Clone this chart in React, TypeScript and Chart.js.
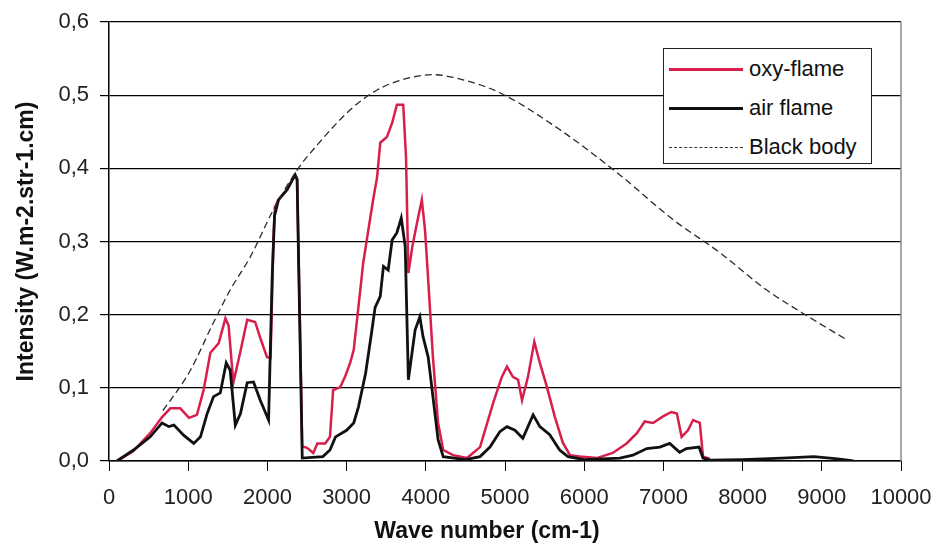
import React, { useEffect, useRef } from "react";
import { Chart, registerables } from "chart.js";

Chart.register(...registerables);

// Oxy-flame spectrum
const oxyX = [100, 300, 520, 670, 775, 900, 1010, 1110, 1195, 1280, 1385, 1470, 1510, 1570, 1660, 1745, 1845, 1920, 1995, 2040, 2075, 2095, 2140, 2250, 2350, 2375, 2440, 2500, 2580, 2630, 2730, 2790, 2830, 2920, 2980, 3045, 3090, 3150, 3210, 3275, 3335, 3385, 3425, 3510, 3575, 3635, 3715, 3750, 3780, 3830, 3890, 3950, 3990, 4030, 4090, 4155, 4220, 4345, 4520, 4685, 4850, 4960, 5025, 5100, 5165, 5215, 5290, 5370, 5440, 5530, 5630, 5730, 5820, 5945, 6160, 6360, 6535, 6665, 6765, 6870, 6995, 7100, 7170, 7230, 7310, 7375, 7460, 7500, 7585];
const oxyY = [0.0, 0.013, 0.038, 0.06, 0.072, 0.072, 0.059, 0.063, 0.097, 0.148, 0.161, 0.195, 0.185, 0.107, 0.15, 0.193, 0.19, 0.165, 0.142, 0.141, 0.3, 0.347, 0.357, 0.371, 0.391, 0.385, 0.02, 0.018, 0.011, 0.024, 0.024, 0.033, 0.097, 0.101, 0.115, 0.134, 0.152, 0.211, 0.271, 0.316, 0.357, 0.388, 0.435, 0.443, 0.462, 0.487, 0.487, 0.416, 0.257, 0.293, 0.326, 0.357, 0.316, 0.248, 0.142, 0.052, 0.015, 0.008, 0.004, 0.019, 0.079, 0.115, 0.129, 0.115, 0.111, 0.083, 0.115, 0.163, 0.134, 0.101, 0.06, 0.025, 0.008, 0.006, 0.004, 0.011, 0.024, 0.038, 0.054, 0.052, 0.061, 0.067, 0.065, 0.033, 0.042, 0.056, 0.052, 0.006, 0.003];

// Air flame spectrum
const airX = [100, 310, 520, 670, 755, 820, 945, 1070, 1155, 1240, 1320, 1405, 1480, 1530, 1595, 1660, 1745, 1825, 1910, 2015, 2060, 2090, 2140, 2250, 2350, 2375, 2440, 2700, 2790, 2860, 3000, 3090, 3150, 3240, 3320, 3360, 3425, 3465, 3525, 3575, 3635, 3690, 3740, 3780, 3865, 3925, 3965, 4030, 4090, 4155, 4220, 4500, 4685, 4810, 4935, 5025, 5125, 5225, 5355, 5440, 5565, 5690, 5795, 6000, 6450, 6615, 6790, 6955, 7080, 7205, 7290, 7450, 7500, 7600, 8000, 8500, 8900, 9200, 9400];
const airY = [0.0, 0.015, 0.033, 0.052, 0.047, 0.049, 0.035, 0.024, 0.033, 0.065, 0.088, 0.093, 0.134, 0.124, 0.049, 0.065, 0.107, 0.108, 0.083, 0.056, 0.25, 0.335, 0.357, 0.371, 0.391, 0.385, 0.004, 0.006, 0.015, 0.033, 0.042, 0.052, 0.074, 0.12, 0.179, 0.21, 0.225, 0.266, 0.261, 0.302, 0.312, 0.332, 0.293, 0.111, 0.179, 0.197, 0.17, 0.142, 0.088, 0.029, 0.006, 0.002, 0.006, 0.019, 0.04, 0.047, 0.042, 0.031, 0.063, 0.047, 0.036, 0.015, 0.006, 0.002, 0.004, 0.008, 0.017, 0.019, 0.024, 0.012, 0.017, 0.019, 0.004, 0.001, 0.002, 0.004, 0.006, 0.003, 0.0];

// Black body curve
const bbX = [680, 776, 1028, 1318, 1532, 1784, 2074, 2377, 2630, 3045, 3385, 3700, 4090, 4470, 4940, 5690, 6450, 7120, 7710, 8300, 8760, 9310];
const bbY = [0.069, 0.083, 0.124, 0.189, 0.234, 0.279, 0.343, 0.398, 0.432, 0.48, 0.507, 0.521, 0.528, 0.521, 0.503, 0.453, 0.391, 0.33, 0.285, 0.234, 0.202, 0.166];

const seriesNames = ["oxy-flame", "air flame", "Black body"];
const xTickValues = [0, 1000, 2000, 3000, 4000, 5000, 6000, 7000, 8000, 9000, 10000];
const xTitle = "Wave number (cm-1)";
const yTitle = "Intensity (W.m-2.str-1.cm)";

const RED = "#d81e4a";
const FONT = "'Liberation Sans', Arial, sans-serif";

const toPoints = (xs: number[], ys: number[]) => xs.map((x, i) => ({ x, y: ys[i] }));

const rightBorder = {
  id: "rightBorder",
  afterDraw(chart: any) {
    const { ctx, chartArea } = chart;
    ctx.save();
    ctx.strokeStyle = "#8a8a8a";
    ctx.lineWidth = 1.5;
    ctx.beginPath();
    ctx.moveTo(chartArea.right, chartArea.top);
    ctx.lineTo(chartArea.right, chartArea.bottom);
    ctx.stroke();
    ctx.restore();
  },
};

const zeroPad = (s: any) => {
  s.paddingLeft = 0;
  s.paddingRight = 0;
  s.paddingTop = 0;
  s.paddingBottom = 0;
};

export default function App() {
  const ref = useRef<HTMLCanvasElement>(null);

  useEffect(() => {
    if (!ref.current) return;
    const chart = new Chart(ref.current, {
      type: "line",
      data: {
        datasets: [
          {
            label: seriesNames[2],
            data: toPoints(bbX, bbY),
            borderColor: "#2a2a2a",
            borderWidth: 1.3,
            borderDash: [7, 4],
            pointRadius: 0,
            cubicInterpolationMode: "monotone",
            fill: false,
          },
          {
            label: seriesNames[1],
            data: toPoints(airX, airY),
            borderColor: "#111111",
            borderWidth: 2.8,
            pointRadius: 0,
            tension: 0,
            fill: false,
          },
          {
            label: seriesNames[0],
            data: toPoints(oxyX, oxyY),
            borderColor: RED,
            borderWidth: 2.5,
            pointRadius: 0,
            tension: 0,
            fill: false,
          },
        ],
      },
      options: {
        animation: false,
        responsive: false,
        layout: { padding: { left: 0, right: 39, top: 22, bottom: 0 } },
        plugins: { legend: { display: false }, tooltip: { enabled: false } },
        scales: {
          x: {
            type: "linear",
            min: 0,
            max: 10000,
            afterFit: (s: any) => { s.height = 83; zeroPad(s); },
            afterBuildTicks: (s: any) => { s.ticks = xTickValues.map((v) => ({ value: v })); },
            ticks: {
              callback: (v: any) => String(v),
              font: { family: FONT, size: 22 },
              color: "#222",
              padding: 14,
              maxRotation: 0,
            },
            grid: { drawOnChartArea: false, drawTicks: true, tickLength: 10, color: "#000", lineWidth: 1 },
            border: { display: true, color: "#000", width: 1.5 },
            title: { display: false, text: xTitle },
          },
          y: {
            type: "linear",
            min: 0,
            max: 0.6,
            afterFit: (s: any) => { s.width = 109; zeroPad(s); },
            ticks: {
              stepSize: 0.1,
              callback: (v: any) => Number(v).toFixed(1).replace(".", ","),
              font: { family: FONT, size: 22 },
              color: "#222",
              padding: 11,
            },
            grid: { color: "#000", lineWidth: 1.2, tickLength: 9 },
            border: { display: true, color: "#000", width: 1.5 },
            title: {
              display: true,
              text: yTitle,
              font: { family: FONT, size: 23, weight: "bold" },
              color: "#111",
              padding: { top: 13, bottom: 0 },
            },
          },
        },
      },
      plugins: [rightBorder],
    } as any);
    return () => chart.destroy();
  }, []);

  const rowStyle = (top: number): React.CSSProperties => ({
    position: "absolute",
    left: 0,
    top,
    height: 30,
    display: "flex",
    alignItems: "center",
  });
  const textStyle: React.CSSProperties = {
    fontFamily: FONT,
    fontSize: 22,
    color: "#111",
    marginLeft: 6,
    whiteSpace: "nowrap",
  };

  return (
    <div style={{ position: "fixed", left: 0, top: 0, width: 940, height: 544, background: "#fff", overflow: "hidden" }}>
      <canvas ref={ref} width={940} height={544} style={{ display: "block" }} />
      <div
        style={{
          position: "absolute",
          left: 287,
          top: 517,
          width: 400,
          textAlign: "center",
          fontFamily: FONT,
          fontSize: 23,
          fontWeight: "bold",
          lineHeight: "26px",
          color: "#111",
          whiteSpace: "nowrap",
        }}
      >
        {xTitle}
      </div>
      <div
        style={{
          position: "absolute",
          left: 663,
          top: 48,
          width: 209,
          height: 116,
          border: "1.5px solid #222",
          background: "#fff",
          boxSizing: "border-box",
        }}
      >
        <div style={rowStyle(5)}>
          <div style={{ marginLeft: 5, width: 74, height: 0, borderTop: `3px solid ${RED}` }} />
          <span style={textStyle}>{seriesNames[0]}</span>
        </div>
        <div style={rowStyle(44)}>
          <div style={{ marginLeft: 5, width: 74, height: 0, borderTop: "3.5px solid #111" }} />
          <span style={textStyle}>{seriesNames[1]}</span>
        </div>
        <div style={rowStyle(83)}>
          <div style={{ marginLeft: 5, width: 74, height: 0, borderTop: "1.5px dashed #333" }} />
          <span style={textStyle}>{seriesNames[2]}</span>
        </div>
      </div>
    </div>
  );
}
